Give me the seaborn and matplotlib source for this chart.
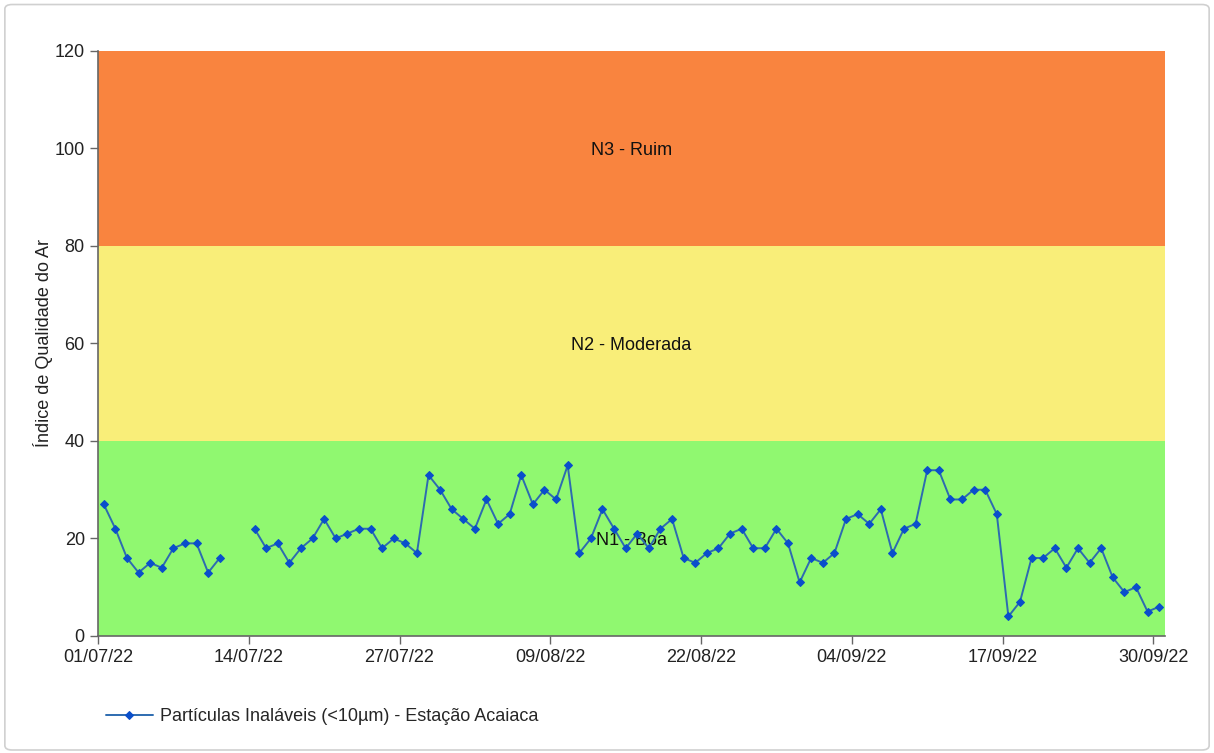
import numpy as np
import pandas as pd
import matplotlib
matplotlib.use('Agg')
import matplotlib.pyplot as plt
import matplotlib.dates as mdates
from matplotlib.patches import FancyBboxPatch
import seaborn as sns

# Dados: Índice diário de PM10 - Estação Acaiaca (jul-set 2022)
datas = pd.date_range('2022-07-01', '2022-09-30', freq='D')
valores_jul = [27, 22, 16, 13, 15, 14, 18, 19, 19, 13, 16, np.nan, np.nan, 22, 18,
               19, 15, 18, 20, 24, 20, 21, 22, 22, 18, 20, 19, 17, 33, 30, 26]
valores_ago = [24, 22, 28, 23, 25, 33, 27, 30, 28, 35, 17, 20, 26, 22, 18, 21,
               18, 22, 24, 16, 15, 17, 18, 21, 22, 18, 18, 22, 19, 11, 16]
valores_set = [15, 17, 24, 25, 23, 26, 17, 22, 23, 34, 34, 28, 28, 30, 30, 25,
               4, 7, 16, 16, 18, 14, 18, 15, 18, 12, 9, 10, 5, 6]
valores = valores_jul + valores_ago + valores_set

# faixas de classificação
faixas_inicio = [0, 40, 80]
faixas_fim = [40, 80, 120]
faixas_nome = ['N1 - Boa', 'N2 - Moderada', 'N3 - Ruim']
faixas_cor = ['#90F870', '#F9EE79', '#F9843F']

tick_datas = pd.date_range('2022-07-01', '2022-09-30', freq='13D')
serie_nome = 'Partículas Inaláveis (<10µm) - Estação Acaiaca'

df = pd.DataFrame({'Data': datas + pd.Timedelta(hours=12), 'IQA': valores})
# separa trechos contínuos para manter o buraco nos dias sem dado
df['trecho'] = df['IQA'].isna().cumsum()
df = df.dropna()

sns.set_theme(style='white')
plt.rcParams['font.family'] = ['Liberation Sans', 'DejaVu Sans']

fig = plt.figure(figsize=(12.14, 7.53), dpi=100)
ax = fig.add_axes([0.0807, 0.1554, 0.8789, 0.7769])

# borda da figura
fig.patches.append(FancyBboxPatch((0.004, 0.004), 0.992, 0.990, boxstyle='round,pad=0,rounding_size=0.006',
                                  transform=fig.transFigure, fill=False, edgecolor='#d0d0d0', linewidth=1.2))

for ini, fim, nome, cor in zip(faixas_inicio, faixas_fim, faixas_nome, faixas_cor):
    ax.axhspan(ini, fim, color=cor, zorder=0, linewidth=0)
    ax.text(0.5, (ini + fim) / 2, nome, transform=ax.get_yaxis_transform(),
            ha='center', va='center_baseline', fontsize=13, color='#111111', zorder=1)

primeiro = True
for _, trecho in df.groupby('trecho'):
    sns.lineplot(data=trecho, x='Data', y='IQA', ax=ax, color='#2D6BB0', linewidth=1.4,
                 marker='D', markersize=4.2, markerfacecolor='#0A4FCB', markeredgecolor='#0A4FCB',
                 label=serie_nome if primeiro else None, legend=False, zorder=3)
    primeiro = False

ax.set_xlim(pd.Timestamp('2022-07-01'), pd.Timestamp('2022-10-01'))
ax.set_ylim(0, 120)
ax.set_yticks([0, 20, 40, 60, 80, 100, 120])
ax.set_xticks(tick_datas)
ax.xaxis.set_major_formatter(mdates.DateFormatter('%d/%m/%y'))
ax.set_xlabel('')
ax.set_ylabel('Índice de Qualidade do Ar', fontsize=13, color='#222222', labelpad=1)
ax.tick_params(axis='both', labelsize=13, colors='#222222', length=6, width=1, direction='out',
               bottom=True, left=True, color='#666666')
for lado in ['top', 'right']:
    ax.spines[lado].set_visible(False)
for lado in ['left', 'bottom']:
    ax.spines[lado].set_color('#666666')
    ax.spines[lado].set_linewidth(1.2)

ax.legend(loc='center left', bbox_to_anchor=(-0.008, -0.138), frameon=False, fontsize=13,
          handlelength=2.6, handletextpad=0.4)

plt.savefig('out.png', dpi=100)
plt.close()
